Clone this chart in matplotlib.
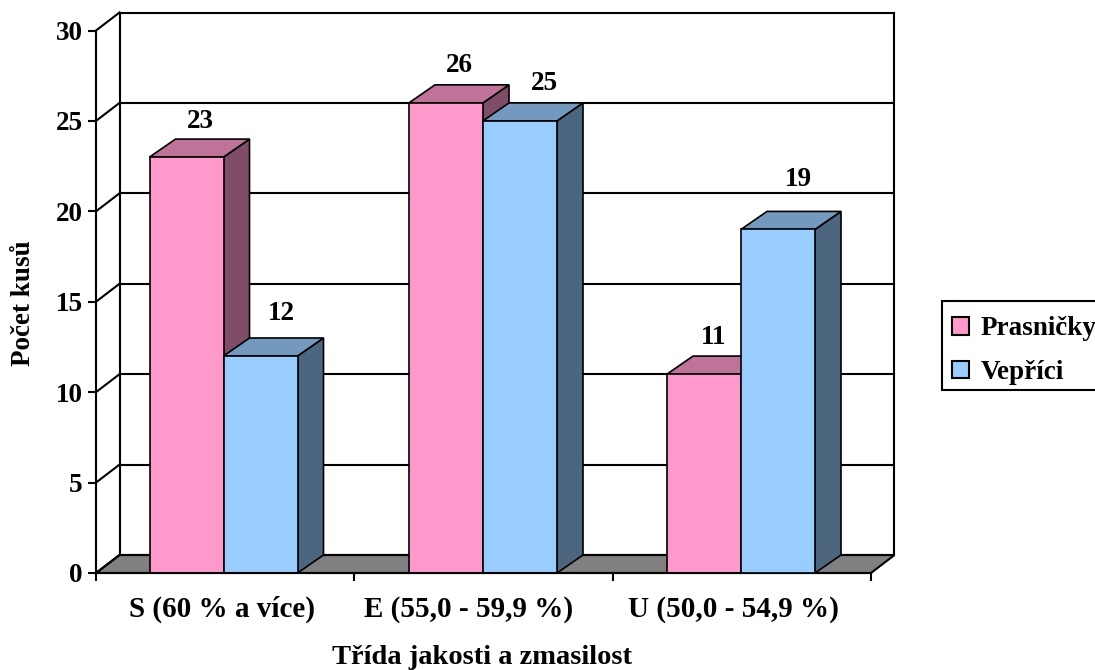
import matplotlib
matplotlib.use("Agg")
import matplotlib.pyplot as plt
from matplotlib.patches import Patch, Polygon, Rectangle
from matplotlib.transforms import ScaledTranslation

categories = ["S (60 % a více)", "E (55,0 - 59,9 %)", "U (50,0 - 54,9 %)"]
prasnicky = [23, 26, 11]
veprici = [12, 25, 19]
series_names = ["Prasničky", "Vepříci"]
y_ticks = [0, 5, 10, 15, 20, 25, 30]

W, H = 1095, 670
X0, X1 = 96, 871      # front floor edge, pixels
Y0, Y30 = 573, 30.5   # value 0 and value 30, pixels
CAT_PX = (X1 - X0) / 3
UNIT_PX = (Y0 - Y30) / 30
WALL_DX = 23.5 / CAT_PX
BAR_DX = 26 / CAT_PX
DEPTH_DY = 18 / UNIT_PX
BAR_W = 74 / CAT_PX
LW_AXIS = 1.5
LW_BAR = 1.2

PINK = ("#FF99CC", "#BF7399", "#804D66")
BLUE = ("#99CCFF", "#7399BF", "#4D6680")

plt.rcParams["font.family"] = ["Liberation Serif", "DejaVu Serif"]
plt.rcParams["font.weight"] = "bold"

fig = plt.figure(figsize=(W / 100, H / 100), dpi=100)
ax = fig.add_axes([X0 / W, 1 - Y0 / H, (X1 - X0) / W, (Y0 - Y30) / H])
ax.set_xlim(0, 3)
ax.set_ylim(0, 30)
ax.patch.set_visible(False)
for name in ["top", "right"]:
    ax.spines[name].set_visible(False)
for name in ["left", "bottom"]:
    ax.spines[name].set_linewidth(LW_AXIS)
    ax.spines[name].set_zorder(6)


def px_offset(dx, dy):
    return ScaledTranslation(dx / 100, dy / 100, fig.dpi_scale_trans)


# back wall, side wall gridlines and floor
line_style = dict(color="black", lw=LW_AXIS, clip_on=False, solid_capstyle="projecting")
ax.add_patch(Polygon([(0, 0), (3, 0), (3 + WALL_DX, DEPTH_DY), (WALL_DX, DEPTH_DY)],
                     closed=True, fc="#808080", ec="black", lw=LW_AXIS, clip_on=False, zorder=1))
for v in y_ticks:
    ax.plot([0, WALL_DX], [v, v + DEPTH_DY], zorder=1, **line_style)
    ax.plot([WALL_DX, 3 + WALL_DX], [v + DEPTH_DY, v + DEPTH_DY], zorder=1, **line_style)
ax.plot([WALL_DX, WALL_DX], [DEPTH_DY, 30 + DEPTH_DY], zorder=1, **line_style)
ax.plot([3 + WALL_DX, 3 + WALL_DX], [DEPTH_DY, 30 + DEPTH_DY], zorder=1, **line_style)


def draw_bar(left, value, colors, z):
    right = left + BAR_W
    edge = dict(ec="black", lw=LW_BAR, clip_on=False, zorder=z, joinstyle="miter")
    ax.add_patch(Polygon([(right, 0), (right + BAR_DX, DEPTH_DY),
                          (right + BAR_DX, value + DEPTH_DY), (right, value)],
                         closed=True, fc=colors[2], **edge))
    ax.add_patch(Polygon([(left, value), (right, value),
                          (right + BAR_DX, value + DEPTH_DY), (left + BAR_DX, value + DEPTH_DY)],
                         closed=True, fc=colors[1], **edge))
    ax.bar(left, value, BAR_W, align="edge", color=colors[0], edgecolor="black",
           linewidth=LW_BAR, clip_on=False, zorder=z)


# label shifts in pixels from the centre of each bar's top face
pink_shift = [(1, 20), (0, 22), (-3, 21)]
blue_shift = [(8, 27), (11, 22), (7, 35)]
group_centers = [(223.5 - X0) / CAT_PX, (483 - X0) / CAT_PX, (741 - X0) / CAT_PX]

z = 2
for i, c in enumerate(group_centers):
    for values, colors, shift, left in [(prasnicky, PINK, pink_shift, c - BAR_W),
                                        (veprici, BLUE, blue_shift, c)]:
        draw_bar(left, values[i], colors, z)
        z += 1
        ax.annotate(str(values[i]),
                    xy=(left + (BAR_W + BAR_DX) / 2, values[i] + DEPTH_DY),
                    xytext=(shift[i][0] * 0.72, shift[i][1] * 0.72 - 2), textcoords="offset points",
                    ha="center", va="center", fontsize=19.5, fontweight="bold",
                    annotation_clip=False, zorder=20)

# value axis
ax.set_yticks(y_ticks)
ax.tick_params(axis="y", length=6, width=LW_AXIS, pad=3.5, labelsize=19.5)

# category axis: ticks on group boundaries, names between them
ax.set_xticks([0, 1, 2, 3])
ax.set_xticklabels([])
ax.tick_params(axis="x", which="major", length=6, width=LW_AXIS)
ax.set_xticks([0.5, 1.5, 2.5], minor=True)
ax.set_xticklabels(categories, minor=True)
ax.tick_params(axis="x", which="minor", length=0, pad=16.5, labelsize=21)
for label, nudge in zip(ax.get_xticklabels(minor=True), [-3, -15, -8]):
    label.set_transform(label.get_transform() + px_offset(nudge, 0))

fig.text(482 / W, 1 - 657 / H, "Třída jakosti a zmasilost", ha="center", va="center",
         fontsize=20.5, fontweight="bold")
fig.text(24 / W, 1 - 303 / H, "Počet kusů", ha="center", va="center", rotation=90,
         fontsize=19.5, fontweight="bold")

# the legend frame runs off the right edge of the figure
fig.add_artist(Rectangle((942 / W, 1 - 390 / H), 170 / W, 89 / H, transform=fig.transFigure,
                         fc="white", ec="black", lw=LW_AXIS, zorder=5))
handles = [Patch(fc=PINK[0], ec="black", lw=1.5), Patch(fc=BLUE[0], ec="black", lw=1.5)]
leg = ax.legend(handles, series_names, loc="upper left",
                bbox_to_anchor=(943 / W, 1 - 307 / H), bbox_transform=fig.transFigure,
                fontsize=19.5, frameon=False,
                handlelength=0.62, handleheight=0.62, handletextpad=0.42, labelspacing=0.68,
                borderpad=0.35, borderaxespad=0)
leg.set_zorder(7)
leg.remove()
fig.add_artist(leg)

fig.savefig("out.png", dpi=100)
